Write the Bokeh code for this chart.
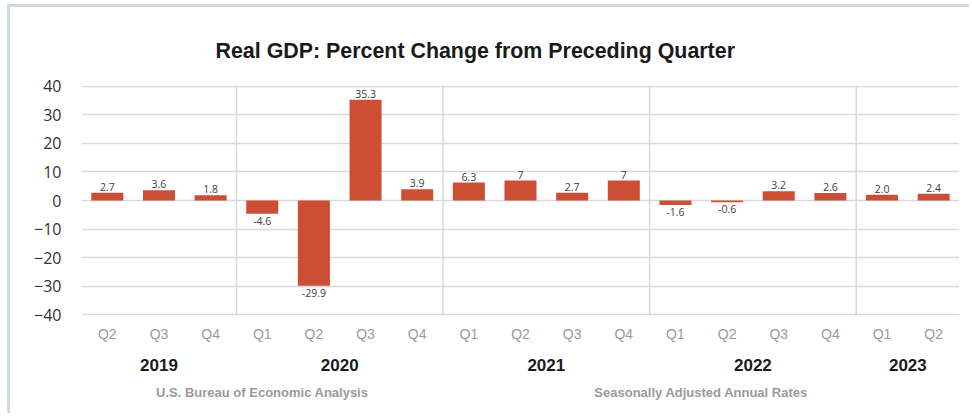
from bokeh.plotting import figure
from bokeh.models import (Range1d, Span, ColumnDataSource, FixedTicker,
                          LinearAxis, Title)
from bokeh.core.properties import value
from bokeh.embed import file_html
from bokeh.resources import INLINE

years = ["2019", "2019", "2019", "2020", "2020", "2020", "2020",
         "2021", "2021", "2021", "2021", "2022", "2022", "2022", "2022",
         "2023", "2023"]
quarters = ["Q2", "Q3", "Q4", "Q1", "Q2", "Q3", "Q4",
            "Q1", "Q2", "Q3", "Q4", "Q1", "Q2", "Q3", "Q4",
            "Q1", "Q2"]
gdp = [2.7, 3.6, 1.8, -4.6, -29.9, 35.3, 3.9, 6.3, 7.0, 2.7, 7.0,
       -1.6, -0.6, 3.2, 2.6, 2.0, 2.4]
gdp_labels = ["2.7", "3.6", "1.8", "-4.6", "-29.9", "35.3", "3.9", "6.3", "7",
              "2.7", "7", "-1.6", "-0.6", "3.2", "2.6", "2.0", "2.4"]
y_ticks = [-40, -30, -20, -10, 0, 10, 20, 30, 40]
title_text = "Real GDP: Percent Change from Preceding Quarter"
source_text = "U.S. Bureau of Economic Analysis"
note_text = "Seasonally Adjusted Annual Rates"

n = len(gdp)
# slot i of the quarter sequence is centred at i + 0.5
xpos = [i + 0.5 for i in range(n)]
src = ColumnDataSource(dict(x=xpos, top=gdp, label=gdp_labels))
pos = ColumnDataSource(dict(x=[x for x, v in zip(xpos, gdp) if v >= 0],
                            y=[v for v in gdp if v >= 0],
                            label=[l for l, v in zip(gdp_labels, gdp) if v >= 0]))
neg = ColumnDataSource(dict(x=[x for x, v in zip(xpos, gdp) if v < 0],
                            y=[v for v in gdp if v < 0],
                            label=[l for l, v in zip(gdp_labels, gdp) if v < 0]))

p = figure(width=962, height=409, x_range=Range1d(0, n), y_range=Range1d(-40.3, 40.3),
           output_backend="svg", toolbar_location=None, title=None,
           min_border_left=71, min_border_right=13, min_border_top=78,
           min_border_bottom=101)
p.styles = {"margin-left": "7px", "margin-top": "4px",
            "border-left": "3px solid #cfd9e0", "border-top": "3px solid #cfd9e0"}
p.outline_line_color = None
p.background_fill_color = "white"
p.border_fill_color = "white"

p.vbar(x="x", top="top", bottom=0, width=0.62, source=src,
       fill_color="#cc4e34", line_color=None)

p.text(x="x", y="y", text="label", source=pos, text_align="center",
       text_baseline="bottom", y_offset=-2, text_font=value("Open Sans"),
       text_font_size="10.5px", text_color="#404040")
p.text(x="x", y="y", text="label", source=neg, text_align="center",
       text_baseline="top", y_offset=3, text_font=value("Open Sans"),
       text_font_size="10.5px", text_color="#404040")

# year boundaries and year centres derived from the data
unique_years = list(dict.fromkeys(years))
year_ticks, boundaries = [], []
for yv in unique_years:
    idx = [i for i, y in enumerate(years) if y == yv]
    year_ticks.append((idx[0] + idx[-1] + 1) / 2)
    if idx[0] > 0:
        boundaries.append(idx[0])
for b in boundaries:
    p.add_layout(Span(location=b, dimension="height", line_color="#d9d9d9",
                      line_width=1.5))

p.xgrid.grid_line_color = None
p.ygrid.grid_line_color = "#d9d9d9"
p.ygrid.grid_line_width = 1.5
p.ygrid.ticker = FixedTicker(ticks=y_ticks)

ya = p.yaxis[0]
ya.ticker = FixedTicker(ticks=y_ticks)
ya.axis_line_color = None
ya.major_tick_line_color = None
ya.minor_tick_line_color = None
ya.major_tick_out = 0
ya.major_label_standoff = 20
ya.major_label_text_font = "Open Sans"
ya.major_label_text_font_size = "16px"
ya.major_label_text_color = "#333333"


def style_axis(ax, font_size, color, bold, standoff):
    ax.axis_line_color = None
    ax.major_tick_line_color = None
    ax.minor_tick_line_color = None
    ax.major_tick_out = 0
    ax.minor_tick_out = 0
    ax.major_label_standoff = standoff
    ax.major_label_text_font = "Liberation Sans"
    ax.major_label_text_font_size = font_size
    ax.major_label_text_color = color
    ax.major_label_text_font_style = "bold" if bold else "normal"


xa = p.xaxis[0]
xa.ticker = FixedTicker(ticks=xpos)
xa.major_label_overrides = {x: q for x, q in zip(xpos, quarters)}
style_axis(xa, "14px", "#9a9a9a", False, 10)

year_axis = LinearAxis(ticker=FixedTicker(ticks=year_ticks),
                       major_label_overrides={t: y for t, y in zip(year_ticks, unique_years)})
style_axis(year_axis, "17px", "#1a1a1a", True, 14)
p.add_layout(year_axis, "below")

foot_ticks = [3.5, 12.0]
foot_axis = LinearAxis(ticker=FixedTicker(ticks=foot_ticks),
                       major_label_overrides={3.5: source_text, 12.0: note_text})
style_axis(foot_axis, "13px", "#9a9a9a", True, 11)
p.add_layout(foot_axis, "below")

p.title = Title(text=title_text, align="left", offset=134, vertical_align="bottom",
                standoff=46, text_font="Liberation Sans", text_font_size="21.4px",
                text_font_style="bold", text_color="#1a1a1a")

open("out.html", "w").write(file_html(p, INLINE))
